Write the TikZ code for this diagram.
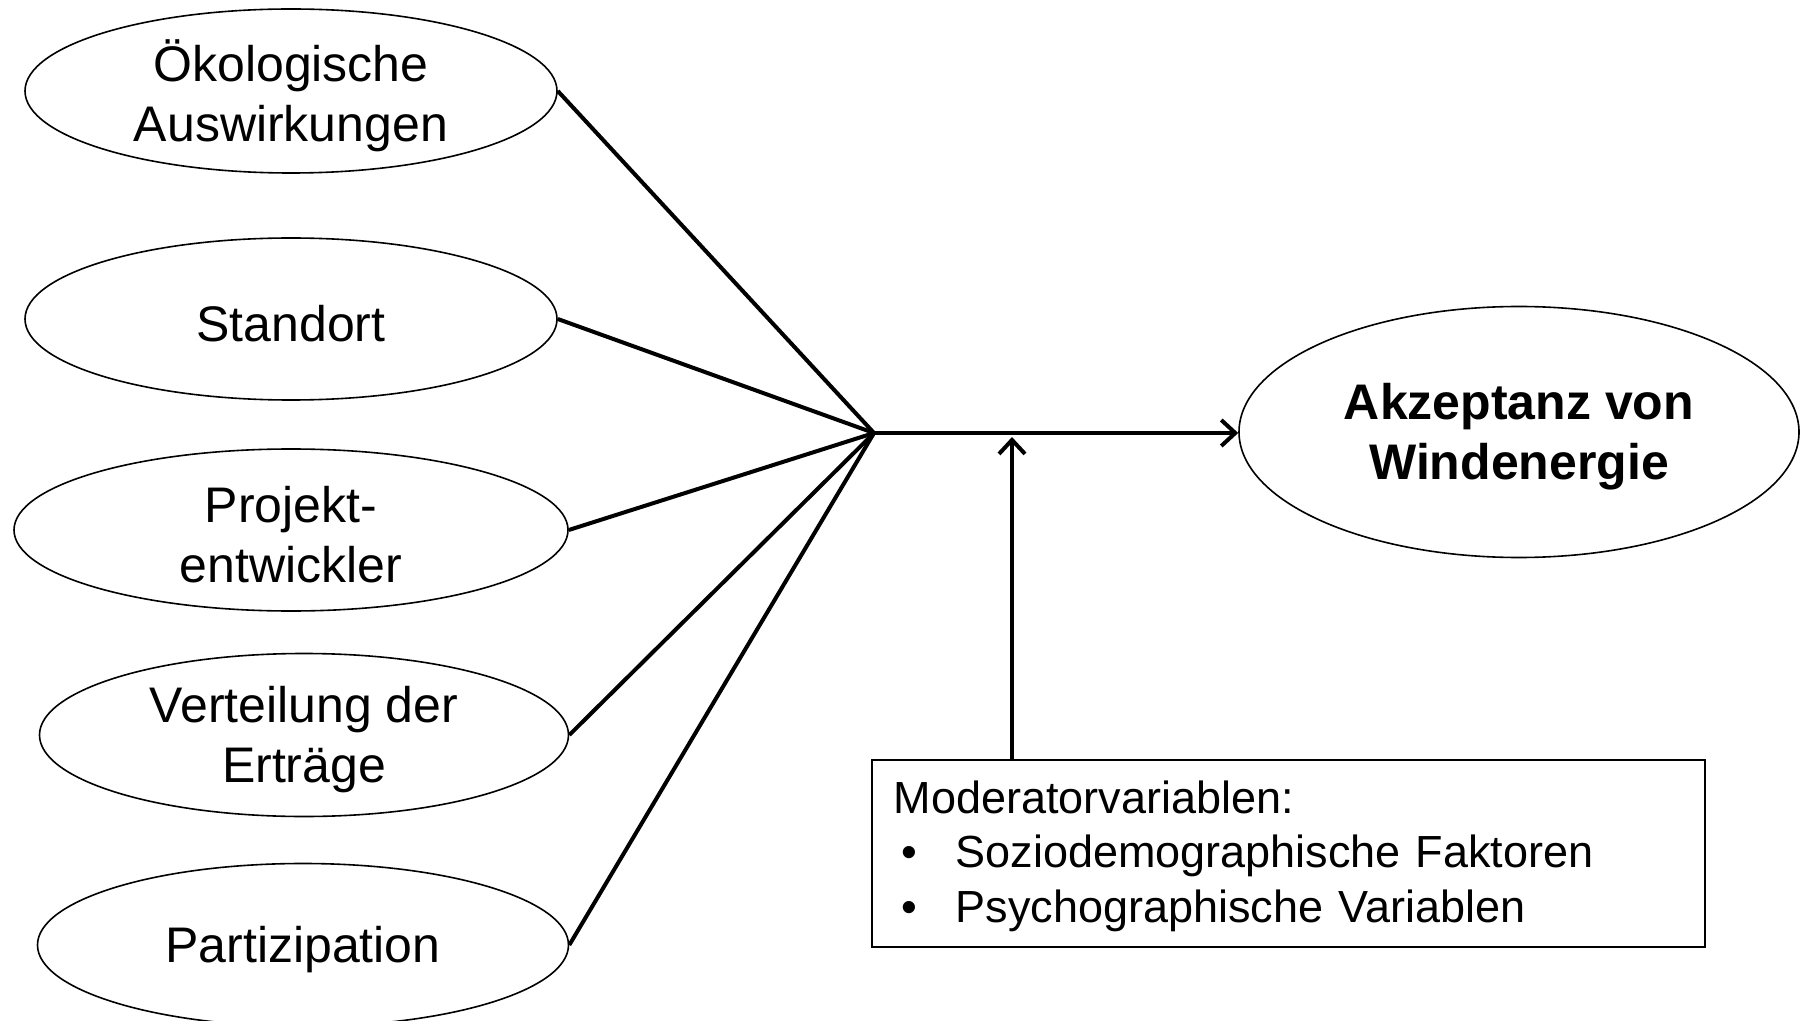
\documentclass[tikz,border=0pt]{standalone}
\usepackage{fontspec}
\setmainfont{Liberation Sans}
\usetikzlibrary{shapes.geometric,arrows.meta}
\begin{document}
\begin{tikzpicture}[x=0.5pt,y=-0.5pt,
  oval/.style={draw, ellipse, line width=0.8pt, inner sep=0pt},
  lbl/.style={align=center, inner sep=0pt, font=\fontsize{25}{30}\selectfont},
  conn/.style={line width=2pt},
  arr/.style={line width=2pt, -{Straight Barb[length=7pt,width=13pt]}}]
\useasboundingbox (0,0) rectangle (1804,1021);
\node[oval, minimum width=266pt, minimum height=82pt] (e1) at (291,91) {};
\node[oval, minimum width=266pt, minimum height=81pt] (e2) at (291,319) {};
\node[oval, minimum width=277pt, minimum height=81pt] (e3) at (291,530) {};
\node[oval, minimum width=264.5pt, minimum height=81.5pt] (e4) at (304,735) {};
\node[oval, minimum width=265.5pt, minimum height=81.5pt] (e5) at (303,945) {};
\node[oval, minimum width=280pt, minimum height=125.5pt] (akz) at (1519,432) {};
\node[lbl] (t1) at ([yshift=-2.5pt]e1.center) {Ökologische\\Auswirkungen};
\node[lbl] (t2) at ([yshift=-2.5pt]e2.center) {Standort};
\node[lbl] (t3) at ([yshift=-2.5pt]e3.center) {Projekt-\\entwickler};
\node[lbl] (t4) at ([yshift=-2.5pt]e4.center) {Verteilung der\\Erträge};
\node[lbl] (t5) at ([yshift=-2.5pt]e5.center) {Partizipation};
\node[lbl, font=\fontsize{25}{30}\selectfont\bfseries] (ta) at ([yshift=-2.5pt]akz.center) {Akzeptanz von\\Windenergie};
\coordinate (J) at (874,433);
\coordinate (M) at (1012,437);
\node[draw, line width=0.8pt, anchor=north west, minimum width=416.5pt, minimum height=93.5pt,
  text width=394.5pt, inner xsep=11pt, inner ysep=0pt, align=left,
  font=\fontsize{22.5}{27.3}\selectfont] (box) at (871,759)
  {\rule{0pt}{19pt}Moderatorvariablen:\\
   \hspace*{4pt}\makebox[27pt][l]{•}Soziodemographische Faktoren\\
   \hspace*{4pt}\makebox[27pt][l]{•}Psychographische Variablen};
\foreach \e in {e1,e2,e3,e4,e5} \draw[conn] (\e.east) -- (J);
\draw[arr] (J) -- (J -| akz.west);
\draw[arr] (box.north -| M) -- (M);
\end{tikzpicture}
\end{document}
